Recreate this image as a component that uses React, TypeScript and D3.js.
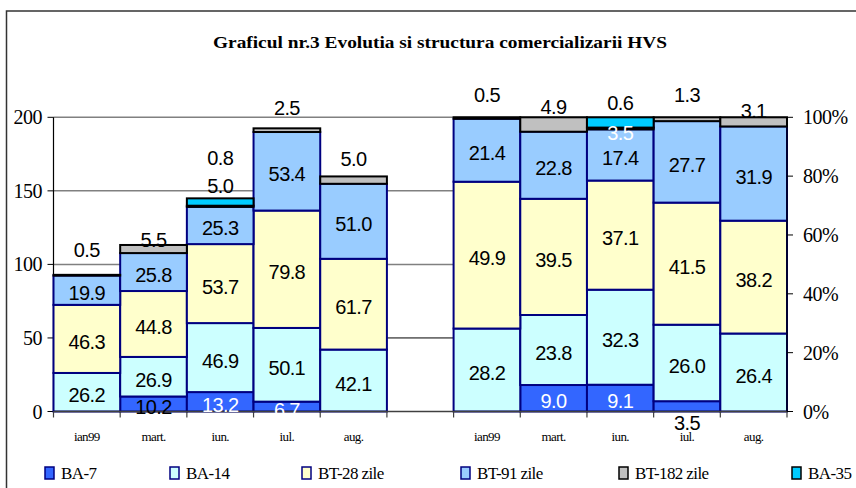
import React from "react";
import * as d3 from "d3";

// ---------- data ----------
const categories = ["ian99", "mart.", "iun.", "iul.", "aug."];
const seriesNames = ["BA-7", "BA-14", "BT-28 zile", "BT-91 zile", "BT-182 zile", "BA-35"];

// absolute values (left panel)
const absBA7 = [0, 10.2, 13.2, 6.7, 0];
const absBA14 = [26.2, 26.9, 46.9, 50.1, 42.1];
const absBT28 = [46.3, 44.8, 53.7, 79.8, 61.7];
const absBT91 = [19.9, 25.8, 25.3, 53.4, 51.0];
const absBT182 = [0.5, 5.5, 0.8, 2.5, 5.0];
const absBA35 = [0, 0, 5.0, 0, 0];

// structure in percent (right panel)
const pctBA7 = [0, 9.0, 9.1, 3.5, 0];
const pctBA14 = [28.2, 23.8, 32.3, 26.0, 26.4];
const pctBT28 = [49.9, 39.5, 37.1, 41.5, 38.2];
const pctBT91 = [21.4, 22.8, 17.4, 27.7, 31.9];
const pctBT182 = [0.5, 4.9, 0.6, 1.3, 3.1];
const pctBA35 = [0, 0, 3.5, 0, 0];

const leftTicks = [0, 50, 100, 150, 200];
const rightTicks = [0, 20, 40, 60, 80, 100];

// ---------- styles ----------
const fills = ["#3366FF", "#CCFFFF", "#FFFFCC", "#99CCFF", "#C0C0C0", "#00CCFF"];
const strokes = ["#000080", "#000080", "#000080", "#000080", "#000000", "#000000"];
const SERIF = "Liberation Serif, DejaVu Serif, Noto Serif, Times New Roman, serif";
const SANS = "Liberation Sans, Arial, Helvetica, sans-serif";

// manually moved labels: offset (px) of glyph centre from segment centre
const labelNudge: Record<string, number> = {
  "L-0-4": -25,
  "L-1-4": -9,
  "L-2-4": -48,
  "L-2-5": -16,
  "L-3-4": -22,
  "L-4-4": -21,
  "R-0-4": -23.5,
  "R-1-4": -18,
  "R-2-4": -25,
  "R-2-5": 11,
  "R-3-4": -24,
  "R-3-0": 17,
  "R-4-4": -11,
};
const whiteLabels = new Set(["L-2-0", "L-3-0", "R-1-0", "R-2-0", "R-2-5"]);

const W = 856;
const H = 488;
const plotLeft = 53.5;
const plotRight = 787;
const yTop = 117.3;
const yBottom = 411.5;

const slots = [...categories.map((c, i) => "L" + i), "gap", ...categories.map((c, i) => "R" + i)];

export default function App() {
  const x = d3.scaleBand<string>().domain(slots).range([plotLeft, plotRight]).padding(0);
  const yL = d3.scaleLinear().domain([0, 200]).range([yBottom, yTop]);
  const yR = d3.scaleLinear().domain([0, 100]).range([yBottom, yTop]);

  const absSeries = [absBA7, absBA14, absBT28, absBT91, absBT182, absBA35];
  const pctSeries = [pctBA7, pctBA14, pctBT28, pctBT91, pctBT182, pctBA35];

  const absRows = categories.map((c, i) => {
    const r: any = { cat: c };
    seriesNames.forEach((s, k) => (r[s] = absSeries[k][i]));
    return r;
  });
  const pctRows = categories.map((c, i) => {
    const r: any = { cat: c };
    seriesNames.forEach((s, k) => (r[s] = pctSeries[k][i]));
    return r;
  });
  const absStack = d3.stack<any>().keys(seriesNames)(absRows);
  const pctStack = d3.stack<any>().keys(seriesNames).offset(d3.stackOffsetExpand)(pctRows);

  const bars: React.ReactNode[] = [];
  const labels: React.ReactNode[] = [];

  const drawPanel = (side: "L" | "R", st: any[], y: (v: number) => number, scale: number) => {
    st.forEach((layer, k) => {
      layer.forEach((d: any, i: number) => {
        const raw = (side === "L" ? absSeries : pctSeries)[k][i];
        if (!raw) return;
        const x0 = x(side + i)!;
        const bw = x.bandwidth();
        const y0 = y(d[0] * scale);
        const y1 = y(d[1] * scale);
        bars.push(
          <rect
            key={`b-${side}-${k}-${i}`}
            x={x0}
            y={y1}
            width={bw}
            height={Math.max(0, y0 - y1)}
            fill={fills[k]}
            stroke={strokes[k]}
            strokeWidth={2}
          />
        );
        const id = `${side}-${i}-${k}`;
        const cy = (y0 + y1) / 2 + (labelNudge[id] !== undefined ? labelNudge[id] : 3);
        labels.push(
          <text
            key={`t-${id}`}
            x={x0 + bw / 2}
            y={cy + 7}
            textAnchor="middle"
            style={{ fontFamily: SANS, fontSize: "20px", letterSpacing: "-0.6px" }}
            fill={whiteLabels.has(id) ? "#ffffff" : "#000000"}
          >
            {raw.toFixed(1)}
          </text>
        );
      });
    });
  };
  drawPanel("L", absStack, yL, 1);
  drawPanel("R", pctStack, yR, 100);

  const boundaries = d3.range(slots.length + 1).map((i) => plotLeft + i * x.bandwidth());

  const legendX = [45, 170, 302, 461, 619, 792];

  return (
    <svg width={W} height={H} style={{ position: "absolute", left: 0, top: 0, background: "#fff" }}>
      <rect x={0} y={0} width={W} height={H} fill="#ffffff" />
      {/* outer frame */}
      <rect x={6.5} y={11} width={900} height={520} fill="none" stroke="#333" strokeWidth={1.5} />
      {/* title */}
      <text
        x={440}
        y={48}
        textAnchor="middle"
        style={{ fontFamily: SERIF, fontWeight: "bold", fontSize: "17px" }}
        textLength={454}
        lengthAdjust="spacingAndGlyphs"
      >
        Graficul nr.3 Evolutia si structura comercializarii HVS
      </text>

      {/* gridlines */}
      {leftTicks
        .filter((t) => t > 0)
        .map((t) => (
          <line
            key={`g${t}`}
            x1={plotLeft}
            x2={plotRight}
            y1={yL(t)}
            y2={yL(t)}
            stroke={t === 50 ? "#000" : "#808080"}
            strokeWidth={t === 50 ? 1 : 1.5}
          />
        ))}

      {/* left axis */}
      <line x1={plotLeft} x2={plotLeft} y1={yTop} y2={yBottom} stroke="#000" strokeWidth={1.2} />
      {leftTicks.map((t) => (
        <g key={`lt${t}`}>
          <line x1={plotLeft - 6} x2={plotLeft} y1={yL(t)} y2={yL(t)} stroke="#000" strokeWidth={1} />
          <text
            x={42}
            y={yL(t) + 7}
            textAnchor="end"
            style={{ fontFamily: SERIF, fontSize: "20px", letterSpacing: "-0.5px" }}
          >
            {t}
          </text>
        </g>
      ))}

      {bars}

      {/* x axis */}
      <line x1={plotLeft} x2={plotRight} y1={yBottom} y2={yBottom} stroke="#404040" strokeWidth={1.5} />
      {boundaries.map((bx, i) => (
        <line key={`xt${i}`} x1={bx} x2={bx} y1={yBottom} y2={yBottom + 6} stroke="#404040" strokeWidth={1.2} />
      ))}
      {slots.map((s, i) =>
        s === "gap" ? null : (
          <text
            key={`xl${s}`}
            x={x(s)! + x.bandwidth() / 2}
            y={441}
            textAnchor="middle"
            style={{ fontFamily: SERIF, fontSize: "13px", letterSpacing: "-0.6px" }}
          >
            {categories[i < 5 ? i : i - 6]}
          </text>
        )
      )}

      {/* right axis */}
      <line x1={plotRight} x2={plotRight} y1={yTop} y2={yBottom} stroke="#000" strokeWidth={1.2} />
      {rightTicks.map((t) => (
        <g key={`rt${t}`}>
          <line x1={plotRight} x2={plotRight + 6} y1={yR(t)} y2={yR(t)} stroke="#000" strokeWidth={1} />
          <text
            x={803}
            y={yR(t) + 7}
            textAnchor="start"
            style={{ fontFamily: SERIF, fontSize: "20px", letterSpacing: "-0.5px" }}
          >
            {t}%
          </text>
        </g>
      ))}

      {labels}

      {/* legend */}
      {seriesNames.map((s, k) => (
        <g key={`lg${k}`}>
          <rect x={legendX[k]} y={467} width={9} height={12} fill={fills[k]} stroke={strokes[k]} strokeWidth={1.5} />
          <text
            x={legendX[k] + 16}
            y={478.5}
            style={{ fontFamily: SERIF, fontSize: "17px", letterSpacing: "-0.6px" }}
          >
            {s}
          </text>
        </g>
      ))}
    </svg>
  );
}
